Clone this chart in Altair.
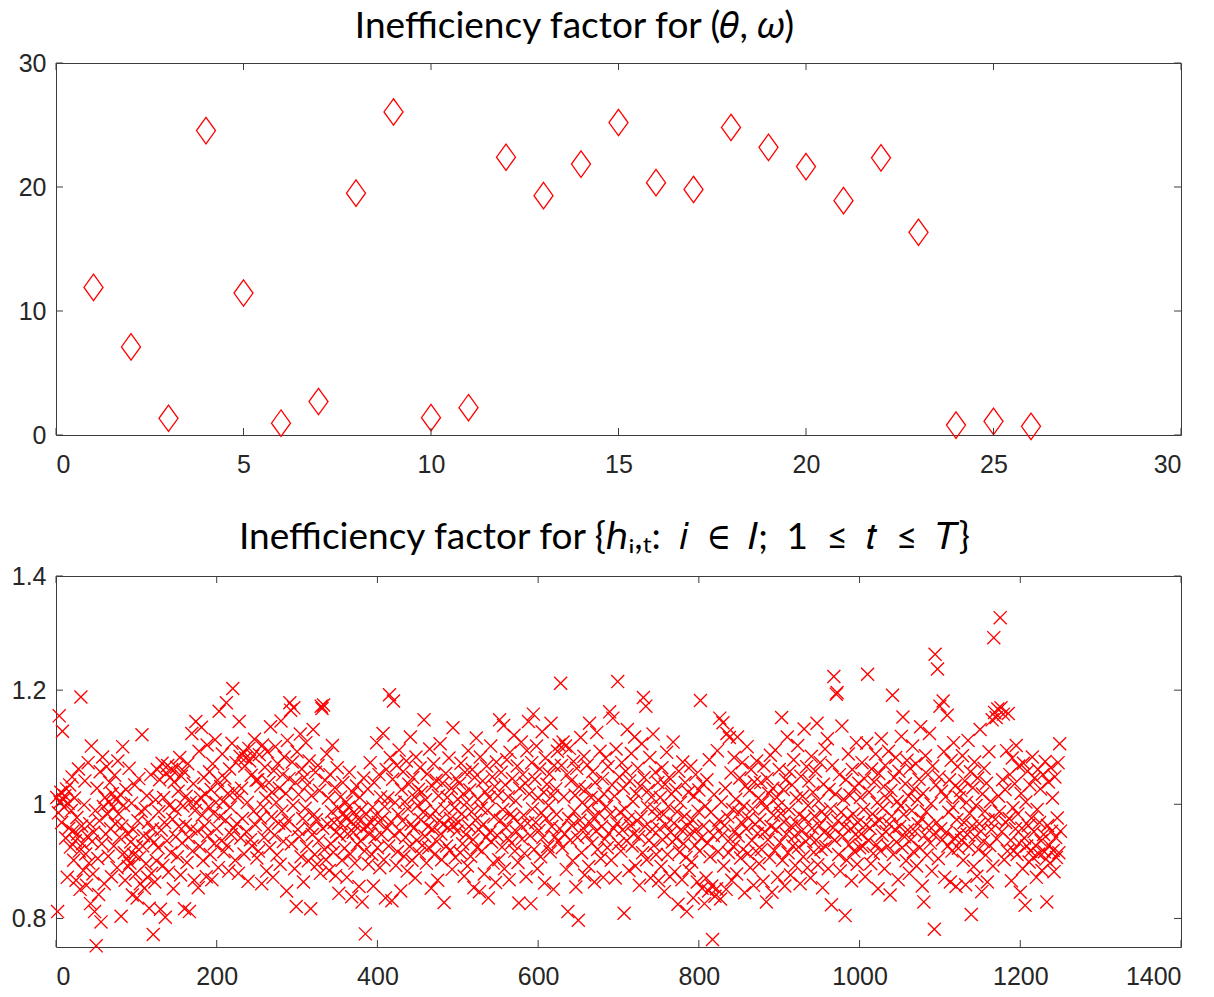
import altair as alt
import pandas as pd

# ---------------- top panel: inefficiency factors for (theta, omega) ----------------
theta_idx = list(range(1, 27))
theta_if = [11.9, 7.1, 1.35, 24.55, 11.45, 0.95, 2.7, 19.5, 26.05, 1.4, 2.2, 22.4, 19.3,
            21.85, 25.2, 20.35, 19.8, 24.8, 23.2, 21.65, 18.9, 22.35, 16.35, 0.8, 1.1, 0.7]
top_xticks = [0, 5, 10, 15, 20, 25, 30]
top_yticks = [0, 10, 20, 30]

# ---------------- bottom panel: inefficiency factors for h_{i,t} ----------------
h_01 = [1.012, 0.812, 0.985, 1.155, 1.004, 1.021, 0.968, 1.128, 1.008, 0.995,
        1.015, 0.941, 1.027, 0.872, 1.002, 0.958, 1.034, 0.925, 0.989, 1.048,
        0.953, 0.902, 1.011, 0.936, 0.867, 0.977, 0.948, 1.062, 0.918, 0.851,
        1.188, 0.962, 0.931, 0.884, 0.999, 1.041, 0.913, 0.858, 0.944, 1.073,
        0.897, 0.966, 0.826, 1.102, 0.935, 0.878, 0.951, 0.812, 0.989, 0.752,
        1.028, 0.905, 0.842, 0.971, 1.057, 0.794, 0.931, 1.083, 0.996, 0.861,
        1.012, 0.948, 1.066, 0.983, 0.909, 1.004, 1.038, 0.957, 0.873, 1.019,
        0.995, 0.927, 1.051, 0.966, 1.008, 0.889, 1.076, 0.983, 0.942, 1.017,
        0.804, 0.962, 1.101, 0.998, 0.915, 0.867, 1.026, 0.905, 0.949, 0.891,
        1.063, 0.897, 0.934, 1.002, 0.841, 0.956, 0.912, 1.034, 0.878, 0.925,
        0.836, 0.971, 1.045, 0.907, 0.861, 0.988, 1.122, 0.927, 0.945, 0.853,
        0.992, 0.896, 1.015, 0.872, 0.968, 0.818, 0.941, 1.052, 0.879, 0.957,
        0.772, 0.933, 0.864, 1.008, 0.901]
h_02 = [1.061, 0.924, 0.987, 1.043, 0.816, 0.955, 1.072, 0.893, 1.012, 0.968,
        0.802, 1.055, 0.936, 1.068, 0.881, 0.998, 1.047, 0.915, 1.061, 0.974,
        0.852, 1.039, 0.991, 0.943, 1.065, 0.908, 1.023, 0.961, 1.082, 0.876,
        1.049, 0.932, 0.997, 1.058, 0.817, 0.964, 1.014, 0.898, 1.071, 0.942,
        0.812, 1.003, 0.957, 1.124, 0.918, 1.036, 0.867, 0.989, 1.145, 1.002,
        0.953, 0.854, 1.093, 0.926, 1.012, 1.135, 0.981, 0.901, 1.047, 0.962,
        1.018, 0.873, 1.104, 0.945, 0.996, 1.057, 0.912, 1.026, 0.868, 1.071,
        0.984, 0.931, 1.113, 1.003, 0.957, 1.042, 0.889, 1.163, 0.978, 1.031,
        0.936, 1.088, 1.005, 0.917, 1.046, 0.972, 1.178, 0.928, 1.019, 0.883,
        1.062, 0.995, 0.947, 1.107, 1.203, 0.958, 1.024, 0.902, 1.073, 0.966,
        1.012, 0.879, 1.145, 1.084, 0.941, 1.028, 0.975, 1.092, 0.913, 1.067,
        1.081, 0.952, 1.003, 0.865, 1.098, 1.076, 0.938, 1.051, 0.927, 1.085,
        0.988, 1.114, 0.964, 1.042, 0.906]
h_03 = [1.043, 0.918, 1.087, 0.976, 1.032, 0.861, 1.104, 0.995, 0.942, 1.065,
        1.011, 0.883, 1.092, 0.957, 1.038, 0.924, 1.136, 0.978, 1.021, 0.872,
        1.059, 0.946, 1.101, 1.003, 0.911, 1.071, 0.967, 1.028, 0.895, 1.146,
        0.988, 1.052, 0.935, 1.083, 0.962, 1.019, 0.848, 1.112, 0.972, 1.045,
        1.178, 1.165, 0.931, 1.074, 0.998, 1.169, 0.887, 1.038, 0.821, 1.092,
        0.956, 1.017, 0.943, 1.123, 0.908, 1.062, 0.975, 0.864, 1.047, 0.993,
        1.108, 0.926, 1.034, 0.901, 1.076, 0.958, 0.817, 1.015, 0.947, 1.131,
        0.982, 0.912, 1.056, 0.973, 0.895, 1.068, 0.936, 1.024, 0.879, 1.172,
        1.168, 0.958, 1.174, 0.921, 1.042, 0.903, 1.088, 0.965, 1.011, 0.884,
        1.052, 0.931, 0.987, 1.103, 0.916, 0.968, 1.029, 0.875, 0.952, 1.064,
        0.993, 0.844, 0.945, 1.013, 0.966, 0.902, 1.038, 0.984, 0.923, 0.977,
        1.004, 0.872, 0.948, 0.995, 1.056, 0.913, 0.969, 0.838, 1.021, 0.951,
        0.986, 0.897, 0.962, 1.032, 0.929]
h_04 = [0.974, 0.856, 1.012, 0.936, 0.991, 0.829, 0.957, 1.046, 0.918, 0.773,
        0.983, 0.962, 1.027, 0.895, 0.948, 1.073, 0.967, 0.912, 0.995, 0.857,
        1.038, 0.942, 0.981, 1.108, 0.924, 0.968, 1.052, 0.889, 1.013, 0.947,
        0.975, 1.124, 0.903, 0.996, 0.836, 1.061, 0.958, 1.011, 0.927, 1.192,
        1.082, 0.969, 0.831, 1.044, 1.181, 0.946, 1.003, 0.893, 1.068, 0.917,
        0.982, 1.095, 0.953, 0.848, 1.026, 0.971, 1.057, 0.909, 1.004, 0.942,
        1.076, 0.883, 0.992, 1.035, 0.926, 1.118, 0.965, 0.902, 1.047, 0.958,
        1.013, 0.871, 1.083, 0.937, 0.998, 1.026, 0.914, 1.064, 0.973, 1.021,
        0.928, 0.986, 1.148, 0.944, 1.008, 0.897, 1.053, 0.961, 0.924, 1.097,
        0.979, 0.853, 1.032, 0.956, 1.071, 0.912, 0.989, 1.042, 0.935, 0.867,
        1.015, 0.971, 1.106, 0.948, 0.903, 1.037, 0.965, 0.828, 0.992, 1.054,
        0.927, 1.012, 0.959, 1.081, 0.919, 0.975, 1.028, 0.886, 1.134, 0.962,
        0.994, 0.907, 1.045, 0.953, 1.009]
h_05 = [0.968, 1.037, 0.915, 1.072, 0.983, 0.931, 1.018, 0.874, 1.056, 0.947,
        1.003, 0.892, 1.094, 0.961, 1.025, 0.909, 0.987, 1.061, 0.938, 0.854,
        1.047, 0.972, 1.116, 0.924, 1.009, 0.956, 0.847, 1.083, 0.993, 0.918,
        1.041, 0.965, 0.878, 1.022, 0.942, 1.067, 0.989, 0.836, 1.012, 0.951,
        1.102, 0.934, 1.048, 0.897, 0.978, 1.031, 0.863, 1.074, 0.946, 1.015,
        0.903, 1.148, 0.972, 1.056, 0.925, 0.991, 1.138, 0.887, 1.034, 0.959,
        1.078, 0.941, 1.013, 0.868, 1.091, 0.983, 0.932, 1.045, 0.976, 1.121,
        0.918, 1.006, 0.952, 1.067, 0.898, 0.827, 1.028, 0.964, 1.109, 0.939,
        1.052, 0.981, 0.914, 1.037, 0.873, 1.094, 0.967, 1.145, 1.018, 0.945,
        0.826, 1.073, 0.992, 1.158, 0.921, 1.044, 0.968, 1.102, 0.887, 1.011,
        0.954, 1.062, 0.908, 0.985, 1.127, 0.942, 1.021, 0.862, 1.081, 0.975,
        1.035, 0.926, 0.998, 1.053, 0.917, 1.142, 0.961, 1.015, 0.851, 1.068,
        0.943, 1.027, 0.982, 1.093, 0.935]
h_06 = [1.104, 0.957, 1.212, 1.068, 0.924, 1.109, 1.013, 0.948, 1.102, 0.886,
        1.052, 0.812, 0.975, 1.098, 0.937, 1.041, 0.963, 0.901, 1.075, 0.988,
        1.016, 0.855, 1.063, 0.942, 0.797, 1.031, 0.972, 1.117, 0.915, 1.003,
        0.958, 1.084, 0.876, 1.026, 0.946, 1.069, 0.993, 0.891, 1.142, 0.967,
        1.012, 0.932, 1.057, 0.978, 0.864, 1.038, 0.953, 1.126, 0.921, 1.007,
        0.984, 1.093, 0.905, 0.961, 1.045, 0.872, 1.018, 0.939, 1.081, 0.996,
        0.924, 1.066, 0.949, 1.162, 0.983, 0.902, 1.034, 1.151, 0.958, 1.014,
        0.871, 1.097, 0.967, 1.215, 0.931, 1.048, 0.986, 0.918, 1.073, 0.955,
        1.028, 0.809, 0.992, 1.058, 0.936, 1.131, 0.974, 0.884, 1.041, 0.963,
        1.089, 0.927, 1.005, 0.948, 1.118, 0.892, 1.019, 0.971, 1.063, 0.943,
        0.858, 1.032, 0.978, 1.106, 0.915, 1.187, 1.047, 0.961, 1.172, 0.903,
        0.995, 1.024, 0.937, 1.082, 0.871, 1.013, 0.956, 1.123, 0.928, 0.992,
        1.056, 0.912, 0.979, 1.038, 0.866]
h_07 = [0.957, 1.012, 0.891, 1.064, 0.938, 0.982, 0.847, 1.035, 0.964, 1.091,
        0.912, 0.996, 1.047, 0.873, 0.951, 1.018, 0.934, 1.109, 0.967, 0.882,
        1.026, 0.941, 0.987, 0.825, 1.058, 0.916, 1.003, 0.956, 0.868, 1.074,
        0.931, 0.979, 1.038, 0.907, 0.812, 0.962, 1.021, 0.884, 0.948, 1.067,
        0.899, 0.973, 0.836, 1.014, 0.928, 1.052, 0.955, 0.864, 0.988, 1.025,
        0.918, 1.182, 0.941, 0.853, 1.036, 0.962, 0.826, 0.997, 0.871, 1.043,
        0.932, 0.848, 1.078, 0.908, 0.986, 0.857, 0.763, 0.945, 1.017, 0.839,
        0.961, 0.852, 1.094, 0.917, 0.972, 1.151, 0.834, 1.004, 0.946, 1.143,
        0.892, 0.963, 1.028, 0.851, 1.124, 0.978, 0.915, 1.117, 0.939, 1.055,
        0.867, 0.991, 0.926, 1.082, 0.953, 1.009, 0.878, 1.118, 0.944, 0.985,
        1.046, 0.906, 0.968, 1.073, 0.921, 0.997, 0.845, 1.032, 0.957, 1.101,
        0.914, 0.976, 1.024, 0.889, 1.061, 0.937, 0.992, 0.858, 1.039, 0.965,
        0.918, 1.076, 0.949, 1.011, 0.896]
h_08 = [0.973, 1.038, 0.921, 1.004, 0.865, 1.067, 0.952, 0.994, 0.829, 1.045,
        0.938, 1.019, 0.907, 1.086, 0.961, 0.846, 1.028, 0.981, 0.919, 1.095,
        0.956, 1.012, 0.872, 0.997, 1.061, 0.933, 0.984, 1.152, 0.902, 1.026,
        0.969, 0.857, 1.043, 0.948, 1.118, 0.915, 0.991, 1.057, 0.876, 0.962,
        1.034, 0.927, 1.078, 0.944, 0.893, 1.011, 0.967, 1.103, 0.925, 0.982,
        0.861, 1.049, 0.953, 1.014, 0.908, 1.132, 0.975, 0.935, 1.066, 0.889,
        0.998, 1.041, 0.942, 0.871, 1.084, 0.958, 1.021, 0.916, 0.979, 1.058,
        0.937, 1.142, 0.894, 1.006, 0.963, 1.073, 0.921, 0.987, 0.854, 1.035,
        0.951, 1.097, 0.926, 0.978, 1.115, 0.887, 1.026, 0.946, 0.992, 0.824,
        1.068, 0.959, 1.224, 0.937, 1.018, 1.193, 1.196, 0.971, 0.912, 1.052,
        0.883, 0.986, 1.137, 0.944, 1.009, 0.961, 0.805, 1.043, 0.902, 0.975,
        1.088, 0.929, 1.016, 0.957, 0.866, 1.061, 0.983, 0.918, 1.029, 0.947,
        1.108, 0.895, 0.968, 1.037, 0.924]
h_09 = [1.012, 0.948, 1.073, 0.926, 0.991, 1.045, 0.873, 0.964, 1.107, 1.228,
        0.937, 1.021, 0.958, 0.896, 1.062, 0.983, 0.914, 1.039, 0.967, 1.088,
        0.929, 1.003, 0.852, 1.054, 0.972, 0.918, 1.115, 0.946, 0.993, 1.031,
        0.887, 1.068, 0.952, 1.011, 0.927, 1.093, 0.965, 0.841, 1.024, 0.979,
        1.191, 0.912, 1.047, 0.956, 1.082, 0.934, 1.005, 0.868, 1.058, 0.961,
        0.997, 1.119, 0.924, 1.153, 0.982, 0.943, 1.036, 0.901, 1.077, 0.955,
        1.014, 0.879, 1.063, 0.938, 0.989, 1.102, 0.917, 1.027, 0.953, 1.071,
        0.892, 1.008, 0.966, 1.044, 0.924, 1.136, 0.975, 0.857, 1.019, 0.829,
        0.946, 1.085, 0.987, 0.911, 1.052, 0.963, 1.124, 0.932, 1.001, 0.883,
        1.067, 0.947, 0.781, 1.263, 1.034, 0.968, 1.237, 0.905, 1.048, 1.172,
        0.957, 1.023, 0.938, 1.181, 1.092, 0.872, 1.013, 0.951, 1.156, 0.927,
        0.986, 1.043, 0.864, 1.077, 0.918, 0.995, 1.108, 0.941, 1.032, 0.856,
        0.973, 1.066, 0.923, 1.012, 0.949]
h_10 = [1.024, 0.937, 1.085, 0.902, 0.968, 1.041, 0.859, 1.003, 0.947, 1.112,
        0.926, 0.984, 1.057, 0.807, 0.962, 1.029, 0.891, 1.074, 0.943, 0.998,
        0.874, 1.046, 0.921, 0.966, 1.131, 0.953, 0.847, 1.018, 0.935, 1.063,
        0.988, 0.911, 1.037, 0.864, 0.972, 1.092, 0.928, 1.005, 0.956, 1.148,
        0.892, 1.292, 1.161, 0.974, 1.152, 0.939, 1.167, 1.014, 0.987, 1.327,
        1.169, 0.952, 1.043, 1.158, 0.903, 1.026, 0.968, 1.094, 0.918, 1.159,
        0.975, 1.052, 0.937, 0.866, 1.081, 0.994, 0.919, 1.036, 0.957, 1.103,
        0.912, 0.983, 1.067, 0.932, 0.846, 1.019, 0.958, 0.887, 1.072, 0.941,
        0.823, 1.004, 0.927, 1.058, 0.963, 0.899, 1.034, 0.918, 0.976, 1.083,
        0.907, 0.952, 1.046, 0.928, 0.872, 0.991, 1.061, 0.913, 0.968, 1.027,
        0.936, 0.884, 1.052, 0.947, 0.917, 1.075, 0.904, 0.829, 0.963, 1.039,
        0.928, 0.897, 1.064, 0.953, 1.011, 0.919, 0.882, 1.048, 0.942, 0.907,
        0.976, 1.073, 0.915, 1.106, 0.953]
h_values = h_01 + h_02 + h_03 + h_04 + h_05 + h_06 + h_07 + h_08 + h_09 + h_10
h_idx = list(range(1, len(h_values) + 1))
bot_xticks = [0, 200, 400, 600, 800, 1000, 1200, 1400]
bot_yticks = [0.8, 1.0, 1.2, 1.4]

# ---------------- styling ----------------
RED = "#ff0000"
AX = "#262626"
BOX = "#3c3c3c"
FONT = "Liberation Sans"
TFONT = "Lato"
W = 1125
H1 = 372
H2 = 371
TK = 7
DIAMOND = "M0,-1L0.72,0L0,1L-0.72,0Z"
XMARK = "M-1,-1L1,1M-1,1L1,-1"
ESP = "\u2002"  # en space, mimics the wide math spacing of the original titles


def axis(values, pad):
    return alt.Axis(values=values, ticks=False, domain=False, grid=False,
                    labelFontSize=25, labelFont=FONT, labelColor=AX,
                    labelPadding=pad, title=None, labelExpr="'' + datum.value")


def panel(xs, ys, xscale, yscale, h, point_mark):
    xax = axis(xs, 17)
    yax = axis(ys, 10)
    pts = point_mark.encode(
        x=alt.X("idx:Q", scale=xscale, axis=xax),
        y=alt.Y("ifac:Q", scale=yscale, axis=yax),
    )
    dx = pd.DataFrame({"idx": xs})
    dy = pd.DataFrame({"ifac": ys})
    rx = alt.Chart(dx).mark_rule(color=BOX, strokeWidth=1)
    ry = alt.Chart(dy).mark_rule(color=BOX, strokeWidth=1)
    xb = rx.encode(x=alt.X("idx:Q", scale=xscale, axis=xax),
                   y=alt.value(h), y2=alt.value(h - TK))
    xt = rx.encode(x=alt.X("idx:Q", scale=xscale, axis=xax),
                   y=alt.value(0), y2=alt.value(TK))
    yl = ry.encode(y=alt.Y("ifac:Q", scale=yscale, axis=yax),
                   x=alt.value(0), x2=alt.value(TK))
    yr = ry.encode(y=alt.Y("ifac:Q", scale=yscale, axis=yax),
                   x=alt.value(W), x2=alt.value(W - TK))
    return alt.layer(pts, xb, xt, yl, yr)


def title(text, size, dx, offset):
    return alt.Title(text, fontSize=size, font=TFONT, fontWeight="normal",
                     color="black", offset=offset, anchor="middle", dx=dx)


# top chart
tx_scale = alt.Scale(domain=[0, 30], nice=False, zero=False)
ty_scale = alt.Scale(domain=[0, 30], nice=False, zero=False)
top_df = pd.DataFrame({"idx": theta_idx, "ifac": theta_if})
top_mark = alt.Chart(top_df).mark_point(
    shape=DIAMOND, filled=False, color=RED, strokeWidth=1.3, size=700,
    opacity=1, clip=False)
top = panel(top_xticks, top_yticks, tx_scale, ty_scale, H1, top_mark).properties(
    width=W, height=H1, title=title("Inefficiency factor for (𝜃, 𝜔)", 37, -44, 5))

# bottom chart
bx_scale = alt.Scale(domain=[0, 1400], nice=False, zero=False)
by_scale = alt.Scale(domain=[0.75, 1.4], nice=False, zero=False)
bot_df = pd.DataFrame({"idx": h_idx, "ifac": h_values})
bot_mark = alt.Chart(bot_df).mark_point(
    shape=XMARK, filled=False, color=RED, strokeWidth=1.35, size=170,
    opacity=1, clip=False)
bot_title = ("Inefficiency factor for {ℎᵢ,ₜ:" + ESP + "𝑖" + ESP + "∈" + ESP + "𝐼;" + ESP
             + "1" + ESP + "≤" + ESP + "𝑡" + ESP + "≤" + ESP + "𝑇}")
bottom = panel(bot_xticks, bot_yticks, bx_scale, by_scale, H2, bot_mark).properties(
    width=W, height=H2, title=title(bot_title, 37, -14, 7))

chart = alt.vconcat(top, bottom, spacing=40).properties(
    padding={"left": 10, "top": 7, "right": 5, "bottom": 5},
    background="white",
).configure_view(stroke=BOX, strokeWidth=1)

chart.save("out.html", embed_options={"renderer": "svg", "actions": False})
